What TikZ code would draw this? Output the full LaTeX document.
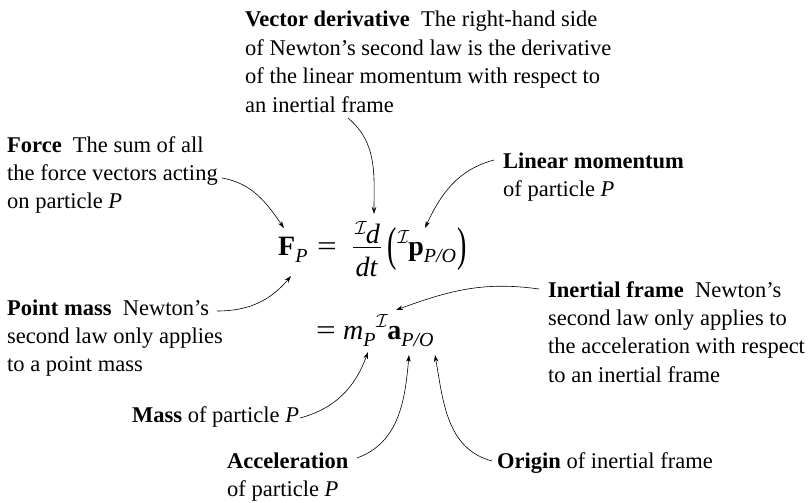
\RequirePackage{fix-cm}
\documentclass[tikz,border=0pt]{standalone}
\usepackage{amsmath}
\usepackage{graphicx}
\usepackage{fontspec}
\setmainfont{Liberation Serif}
\usetikzlibrary{arrows.meta}
\newcommand\blk[1]{\vtop{\halign{##\hfil\cr#1\crcr}}}
\newcommand\sbs[1]{\raisebox{-7.5pt}{\fontsize{20}{20}\selectfont\itshape #1}}
\newcommand\preI[1]{\raisebox{#1}{\fontsize{19}{19}\selectfont$\mathcal{I}$}}
\newcommand\lpar{\raisebox{-5pt}{\scalebox{1}[1.7]{(}}}
\newcommand\rpar{\raisebox{-5pt}{\scalebox{1}[1.7]{)}}}
\newcommand\eqsign{\scalebox{1.25}[1]{=}}
\tikzset{
  lbl/.style={inner sep=0pt, anchor=base west, font=\fontsize{22.5}{28.4}\selectfont},
  eqn/.style={inner sep=0pt, anchor=base west, font=\fontsize{28}{34}\selectfont},
  conn/.style={-{Stealth[length=7pt,width=4.5pt]}, line width=0.6pt},
}
\begin{document}
\begin{tikzpicture}[x=1pt,y=-1pt]
\useasboundingbox[fill=white] (0,0) rectangle (812,503);
% labels
\node[lbl] (vd) at (245,27) {\blk{\textbf{Vector derivative}\enspace The right-hand side\cr
of Newton’s second law is the derivative\cr
of the linear momentum with respect to\cr
an inertial frame}};
\node[lbl] (force) at (7,152) {\blk{\textbf{Force}\enspace The sum of all\cr
the force vectors acting\cr
on particle \textit{P}}};
\node[lbl] (lin) at (503,168) {\blk{\textbf{Linear momentum}\cr
of particle \textit{P}}};
\node[lbl] (pm) at (7,315) {\blk{\textbf{Point mass}\enspace Newton’s\cr
second law only applies\cr
to a point mass}};
\node[lbl] (inf) at (548,297) {\blk{\textbf{Inertial frame}\enspace Newton’s\cr
second law only applies to\cr
the acceleration with respect\cr
to an inertial frame}};
\node[lbl] (mass) at (132,422) {\textbf{Mass} of particle \textit{P}};
\node[lbl] (accl) at (227,468) {\blk{\textbf{Acceleration}\cr
of particle \textit{P}}};
\node[lbl] (orig) at (497,468) {\textbf{Origin} of inertial frame};
% equation
\node[eqn] (FP) at (278,255) {\textbf{F}\sbs{P}};
\node[eqn] (eqA) at (317,255) {\eqsign};
\node[eqn] (num) at (355,243) {\preI{9pt}\kern-1pt\textit{d}};
\node[eqn] (den) at (355.5,276) {\textit{dt}};
\coordinate (barL) at (353,247.5);
\coordinate (barR) at (381,247.5);
\draw[line width=1.1pt] (barL) -- (barR);
\node[eqn] (mom) at (387,255) {\lpar\kern1pt\preI{12pt}\kern-1pt\textbf{p}\sbs{P/O}\kern1pt\rpar};
\node[eqn] (eqB) at (316,339) {\eqsign};
\node[eqn] (mP) at (343,339) {\textit{m}\sbs{P}};
\node[eqn] (acc) at (376,339) {\preI{12pt}\kern-0.5pt\textbf{a}\sbs{P/O}};
% connector ends
\coordinate (sForce) at (222,178);
\coordinate (tForce) at (284,228);
\coordinate (sPm) at (217,311);
\coordinate (tPm) at (291,276);
\coordinate (sVd) at (348,118);
\coordinate (tVd) at (374,214);
\coordinate (sLin) at (494,160);
\coordinate (tLin) at (425,228);
\coordinate (sInf) at (539,289);
\coordinate (tInf) at (396,310);
\coordinate (sMass) at (300,418);
\coordinate (tMass) at (368,352);
\coordinate (sAcc) at (357,458);
\coordinate (tAcc) at (409,355);
\coordinate (sOrig) at (492,461);
\coordinate (tOrig) at (435,355);
% connectors
\draw[conn] (sForce) to[out=-10,in=125] (tForce);
\draw[conn] (sPm) to[out=0,in=-130] (tPm);
\draw[conn] (sVd) to[out=-40,in=90] (tVd);
\draw[conn] (sLin) to[out=195,in=65] (tLin);
\draw[conn] (sInf) to[out=172,in=20] (tInf);
\draw[conn] (sMass) to[out=15,in=-110] (tMass);
\draw[conn] (sAcc) to[out=20,in=-95] (tAcc);
\draw[conn] (sOrig) to[out=165,in=-80] (tOrig);
\end{tikzpicture}
\end{document}
